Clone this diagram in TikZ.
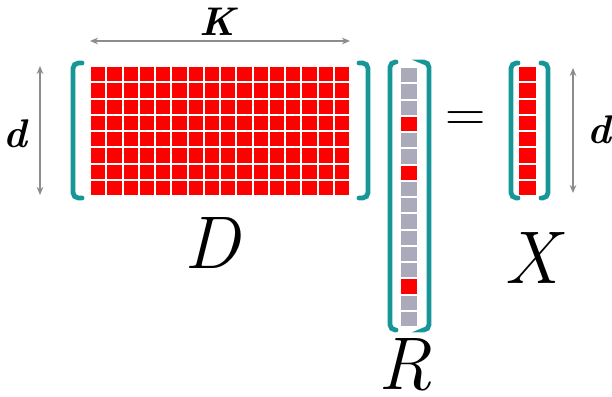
\documentclass[tikz,border=0pt]{standalone}
\usepackage{fontspec}
\usetikzlibrary{arrows.meta}

\definecolor{bracketteal}{RGB}{22,150,150}
\definecolor{cellgray}{RGB}{170,170,186}
\definecolor{cellred}{RGB}{255,0,0}
\definecolor{dimgray}{RGB}{140,140,140}

\tikzset{
  bracket/.style={draw=bracketteal, line width=3.6pt, rounded corners=4pt, line cap=round},
  dimline/.style={draw=dimgray, line width=1.1pt, {Stealth[length=6pt,width=5pt]}-{Stealth[length=6pt,width=5pt]}},
  biglabel/.style={font=\fontsize{56}{58}\selectfont\itshape, inner sep=0pt},
  dimlabel/.style={font=\fontsize{30}{32}\selectfont\bfseries\itshape, inner sep=0pt}
}

\begin{document}
\begin{tikzpicture}[x=0.75pt, y=-0.75pt]
  % Bounding box
  \useasboundingbox (0,0) rectangle (612,397);

  % Matrix D (16 x 8)
  \foreach \i in {0,...,15}
    \foreach \j in {0,...,7}
      \fill[cellred] (90+\i*16.25+1, 66+\j*16.25+1) rectangle ++(14.25,14.25);
  \draw[bracket] (82,63) -- (73,63) -- (73,198) -- (82,198);
  \draw[bracket] (359,63) -- (368,63) -- (368,198) -- (359,198);
  \node[biglabel] (labD) at (212,243) {D};

  % Vector R (16 entries, 3 non-zero)
  \foreach \j in {0,...,15}
    \fill[cellgray] (401, 67+\j*16.25+1) rectangle ++(16,14.25);
  \foreach \j in {3,6,13}
    \fill[cellred] (401, 67+\j*16.25+1) rectangle ++(16,14.25);
  \draw[bracket] (396,62) -- (390,62) -- (390,330) -- (396,330);
  \draw[bracket] (424,62) -- (429,62) -- (429,330) -- (424,330);
  \node[biglabel] (labR) at (405,365) {R};

  % Equal sign
  \node[font=\fontsize{42}{44}\selectfont, inner sep=0pt] (eq) at (466,122) {=};

  % Vector X (8 entries)
  \foreach \j in {0,...,7}
    \fill[cellred] (519, 66+\j*16.25+1) rectangle ++(17,14.25);
  \draw[bracket] (518,63) -- (511,63) -- (511,198) -- (518,198);
  \draw[bracket] (541,63) -- (548,63) -- (548,198) -- (541,198);
  \node[biglabel] (labX) at (532,258) {X};

  % Dimensions
  \coordinate (kL) at (90,41);
  \coordinate (kR) at (350,41);
  \draw[dimline] (kL) -- (kR);
  \node[dimlabel] (labK) at (217,22) {K};

  \coordinate (dT) at (40,66);
  \coordinate (dB) at (40,195);
  \draw[dimline] (dT) -- (dB);
  \node[dimlabel] (labd) at (15,134) {d};

  \coordinate (xT) at (573,68);
  \coordinate (xB) at (573,193);
  \draw[dimline] (xT) -- (xB);
  \node[dimlabel] (labdx) at (599,130) {d};
\end{tikzpicture}
\end{document}
